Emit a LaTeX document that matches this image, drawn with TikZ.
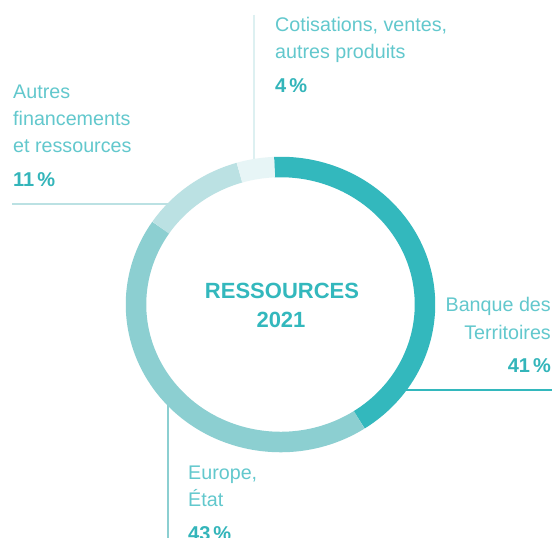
\documentclass[tikz,border=0pt]{standalone}
\usepackage{fontspec}
\usetikzlibrary{calc}
\setmainfont{Liberation Sans}
\definecolor{tealdark}{HTML}{33B8BD}
\definecolor{tealmid}{HTML}{8CCFD1}
\definecolor{teallight}{HTML}{BBE1E3}
\definecolor{tealpale}{HTML}{E7F5F6}
\definecolor{labeltxt}{HTML}{62C8CD}
\definecolor{pcttxt}{HTML}{33B5BA}
\definecolor{topline}{HTML}{DDF0F1}
\begin{document}
\begin{tikzpicture}[x=1pt,y=1pt,
  lbl/.style={inner sep=0pt,text=labeltxt,font=\fontsize{19.7}{24}\selectfont},
  pct/.style={inner sep=0pt,text=pcttxt,font=\fontsize{20}{24}\selectfont\bfseries},
  ctr/.style={inner sep=0pt,text=tealdark,font=\fontsize{22}{26}\selectfont\bfseries},
  seg/.style={line width=20.5pt,line cap=butt},
  leader/.style={line width=1.6pt}]
\useasboundingbox (0,0) rectangle (557,538);
\clip (0,0) rectangle (557,538);
\fill[white] (0,0) rectangle (557,538);
% centre of the ring
\coordinate (c) at (280.5,233.5);
% leader line end points
\coordinate (topA) at (254,523);
\coordinate (topB) at (254,372);
\coordinate (leftA) at (12,334);
\coordinate (leftB) at (178,334);
\coordinate (rightA) at (398,148);
\coordinate (rightB) at (552,148);
\coordinate (botA) at (168,145);
\coordinate (botB) at (168,0);
\draw[leader,topline] (topA) -- (topB);
\draw[leader,teallight] (leftA) -- (leftB);
\draw[leader,tealdark,line width=2pt] (rightA) -- (rightB);
\draw[leader,tealmid,line width=2pt] (botA) -- (botB);
% ring segments (elliptical, parametric angles)
\def\rx{144.5}\def\ry{137.5}
\draw[seg,tealdark] ($(c)+({\rx*cos(92.4)},{\ry*sin(92.4)})$) arc[start angle=92.4,end angle=-57,x radius=\rx,y radius=\ry];
\draw[seg,tealmid] ($(c)+({\rx*cos(303)},{\ry*sin(303)})$) arc[start angle=303,end angle=146,x radius=\rx,y radius=\ry];
\draw[seg,teallight] ($(c)+({\rx*cos(146)},{\ry*sin(146)})$) arc[start angle=146,end angle=106.5,x radius=\rx,y radius=\ry];
\draw[seg,tealpale] ($(c)+({\rx*cos(106.5)},{\ry*sin(106.5)})$) arc[start angle=106.5,end angle=92.4,x radius=\rx,y radius=\ry];
% centre title
\node[ctr,anchor=base] (t1) at (282,239) {RESSOURCES};
\node[ctr,anchor=base] (t2) at (281,210) {2021};
% Cotisations
\node[lbl,anchor=base west] (cot1) at (275,506) {Cotisations, ventes,};
\node[lbl,anchor=base west] (cot2) at (275,479) {autres produits};
\node[pct,anchor=base west] (cotp) at (275,445) {4\hspace{3pt}\%};
% Autres financements
\node[lbl,anchor=base west] (aut1) at (13,439) {Autres};
\node[lbl,anchor=base west] (aut2) at (13,412) {financements};
\node[lbl,anchor=base west] (aut3) at (13,385) {et ressources};
\node[pct,anchor=base west] (autp) at (13,351) {11\hspace{3pt}\%};
% Banque des Territoires
\node[lbl,anchor=base east] (bq1) at (551,226) {Banque des};
\node[lbl,anchor=base east] (bq2) at (551,198) {Territoires};
\node[pct,anchor=base east] (bqp) at (551,165) {41\hspace{3pt}\%};
% Europe, Etat
\node[lbl,anchor=base west] (eu1) at (188,58) {Europe,};
\node[lbl,anchor=base west] (eu2) at (188,31) {État};
\node[pct,anchor=base west] (eup) at (188,-3) {43\hspace{3pt}\%};
\end{tikzpicture}
\end{document}
